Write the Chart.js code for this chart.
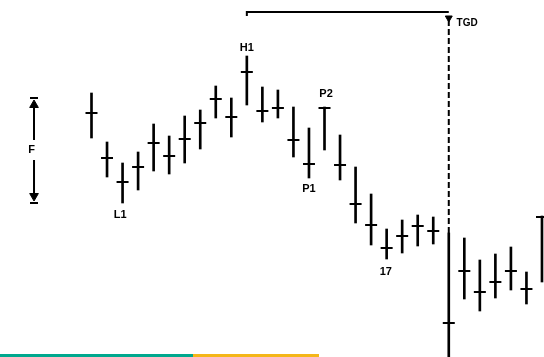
<!DOCTYPE html>
<html>
<head>
<meta charset="utf-8">
<script src="https://cdn.jsdelivr.net/npm/chart.js@4/dist/chart.umd.min.js"></script>
<style>
    body { margin: 0; background: #fff; }
    #wrap { position: relative; width: 544px; height: 357px; }
    .strip { position: absolute; bottom: 0; height: 3px; }
</style>
</head>
<body>
<div id="wrap">
    <canvas id="chart" width="544" height="357"></canvas>
    <div class="strip" style="left:0;width:193px;background:#00a88e"></div>
    <div class="strip" style="left:193px;width:126px;background:#f4b619"></div>
</div>
<script>
// bar number (one per session), price
const bars = [0, 1, 2, 3, 4, 5, 6, 7, 8, 9, 10, 11, 12, 13, 14, 15, 16, 17, 18, 19, 20, 21, 22, 23, 24, 25, 26, 27, 28, 29];
const highs = [264, 215, 194, 205, 233, 221, 241, 247, 271, 259, 301, 270, 267, 250, 229, 250, 222, 190, 163, 128, 137, 142, 140, 124, 119, 97, 103, 110, 85, 141];
const lows = [219, 180, 154, 167, 186, 183, 194, 208, 239, 220, 252, 235, 239, 200, 179, 207, 177, 134, 112, 98, 104, 111, 113, -5, 58, 46, 59, 67, 53, 75];
const closes = [244, 199, 175, 190, 214, 201, 218, 234, 258, 240, 285, 246, 249, 217, 193, 249, 192, 153, 132, 109, 121, 131, 126, 34, 86, 65, 75, 86, 68, 140];

// marked turning points
const notes = [
    { text: "H1", x: 10, y: 309 },
    { text: "P2", x: 15.1, y: 263 },
    { text: "P1", x: 14, y: 168 },
    { text: "L1", x: 1.85, y: 142 },
    { text: "17", x: 18.95, y: 85 },
    { text: "F", x: -3.85, y: 207 }
];

const tgdBar = 23;
const bracketStart = 10;
const bracketLevel = 345;
const fX = -3.7;
const fTop = 259;
const fBottom = 154;

function drawNotes() {
    return {
        id: 'notes',
        afterDatasetsDraw(chart) {
            const ctx = chart.ctx;
            const xs = chart.scales.x, ys = chart.scales.y;
            ctx.save();
            ctx.fillStyle = '#000';
            ctx.font = 'bold 11px "Liberation Sans", Arial, sans-serif';
            ctx.textAlign = 'center';
            ctx.textBaseline = 'middle';
            notes.forEach(n => {
                ctx.fillText(n.text, xs.getPixelForValue(n.x), ys.getPixelForValue(n.y));
            });
            ctx.font = 'bold 10px "Liberation Sans", Arial, sans-serif';
            ctx.textAlign = 'left';
            ctx.fillText('TGD', xs.getPixelForValue(tgdBar + 0.5), ys.getPixelForValue(334));
            ctx.restore();
        }
    };
}

new Chart(document.getElementById('chart'), {
    type: 'bar',
    data: {
        datasets: [{
            type: 'bar',
            label: 'range',
            data: bars.map((b, i) => ({ x: b, y: [lows[i], highs[i]] })),
            backgroundColor: '#000',
            barThickness: 2,
            order: 2
        }, {
            type: 'line',
            label: 'close',
            data: bars.map((b, i) => ({ x: b, y: closes[i] })),
            showLine: false,
            pointStyle: 'line',
            pointRadius: 6,
            pointBorderWidth: 2,
            borderColor: '#000',
            order: 1
        }, {
            type: 'line',
            label: 'TGD',
            data: [{ x: tgdBar, y: 337 }, { x: tgdBar, y: highs[tgdBar] }],
            borderColor: '#000',
            borderWidth: 2,
            borderDash: [6, 3],
            pointRadius: 0
        }, {
            type: 'line',
            label: 'bracket',
            data: [{ x: bracketStart, y: bracketLevel - 4 }, { x: bracketStart, y: bracketLevel }, { x: tgdBar, y: bracketLevel }],
            borderColor: '#000',
            borderWidth: 2,
            pointRadius: 0
        }, {
            type: 'line',
            label: 'arrow',
            data: [{ x: tgdBar, y: 339 }],
            showLine: false,
            pointStyle: 'triangle',
            rotation: 180,
            pointRadius: 4,
            backgroundColor: '#000',
            borderColor: '#000'
        }, {
            type: 'line',
            label: 'F up',
            data: [{ x: fX, y: 217 }, { x: fX, y: fTop - 4 }],
            borderColor: '#000',
            borderWidth: 2,
            pointRadius: 0
        }, {
            type: 'line',
            label: 'F down',
            data: [{ x: fX, y: 197 }, { x: fX, y: fBottom + 4 }],
            borderColor: '#000',
            borderWidth: 2,
            pointRadius: 0
        }, {
            type: 'line',
            label: 'F heads',
            data: [{ x: fX, y: fTop - 7 }, { x: fX, y: fBottom + 7 }],
            showLine: false,
            pointStyle: 'triangle',
            rotation: [0, 180],
            pointRadius: 5,
            backgroundColor: '#000',
            borderColor: '#000'
        }, {
            type: 'line',
            label: 'F caps',
            data: [{ x: fX, y: fTop }, { x: fX, y: fBottom }],
            showLine: false,
            pointStyle: 'line',
            pointRadius: 4,
            pointBorderWidth: 2,
            borderColor: '#000'
        }]
    },
    options: {
        responsive: false,
        animation: false,
        layout: { padding: 0, autoPadding: false },
        scales: {
            x: { type: 'linear', min: -5.89, max: 29.13, offset: false, display: false },
            y: { min: 0, max: 357, display: false }
        },
        plugins: {
            legend: { display: false },
            tooltip: { enabled: false }
        }
    },
    plugins: [drawNotes()]
});
</script>
</body>
</html>
